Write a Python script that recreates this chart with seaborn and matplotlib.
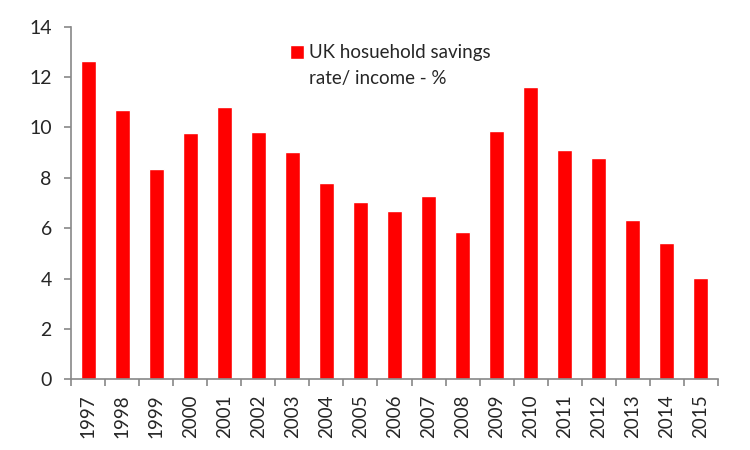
import matplotlib
matplotlib.use("Agg")
import matplotlib.pyplot as plt
import matplotlib.patches as mpatches
import seaborn as sns
import pandas as pd

# UK household savings ratio, % of income
years = [str(y) for y in range(1997, 2016)]
savings = [12.65, 10.68, 8.36, 9.77, 10.80, 9.83, 9.04, 7.78, 7.03, 6.67,
           7.26, 5.84, 9.85, 11.59, 9.09, 8.77, 6.31, 5.40, 4.01]
label_lines = ["UK hosuehold savings", "rate/ income - %"]

df = pd.DataFrame({"year": years, "rate": savings})

sns.set_style("white")
plt.rcParams['font.family'] = ['Lato', 'DejaVu Sans']

fig, ax = plt.subplots(figsize=(7.5, 4.5), dpi=100)
fig.subplots_adjust(left=0.095, right=0.957, bottom=0.157, top=0.941)

sns.barplot(data=df, x="year", y="rate", color="#ff0000", saturation=1,
            width=0.43, ax=ax)

ax.set_ylim(0, 14)
ax.set_yticks(range(0, 15, 2))
ax.set_xlim(-0.5, len(years) - 0.5)
ax.set_xlabel("")
ax.set_ylabel("")

# tick marks between the categories, like a spreadsheet chart
ax.set_xticks([i - 0.5 for i in range(len(years) + 1)], minor=True)
ax.tick_params(axis="x", which="major", length=0, pad=11, labelrotation=90,
               labelsize=13.5)
ax.tick_params(axis="x", which="minor", length=5, width=1.2, color="#888888",
               direction="out", bottom=True)
ax.tick_params(axis="y", length=5, width=1.2, color="#888888", direction="out",
               labelsize=14, pad=9, left=True)

sns.despine(ax=ax)
for side in ["left", "bottom"]:
    ax.spines[side].set_color("#888888")
    ax.spines[side].set_linewidth(1.2)

# legend: red square next to the first line of the two-line label
bar_handle = ax.patches[0]
blank = mpatches.Patch(visible=False)
ax.legend([bar_handle, blank], label_lines, loc="upper left",
          bbox_to_anchor=(0.338, 0.95), frameon=False, fontsize=13.5,
          handlelength=0.75, handleheight=0.75, handletextpad=0.3,
          labelspacing=0.45, borderpad=0, borderaxespad=0)

fig.savefig("out.png", dpi=100)
